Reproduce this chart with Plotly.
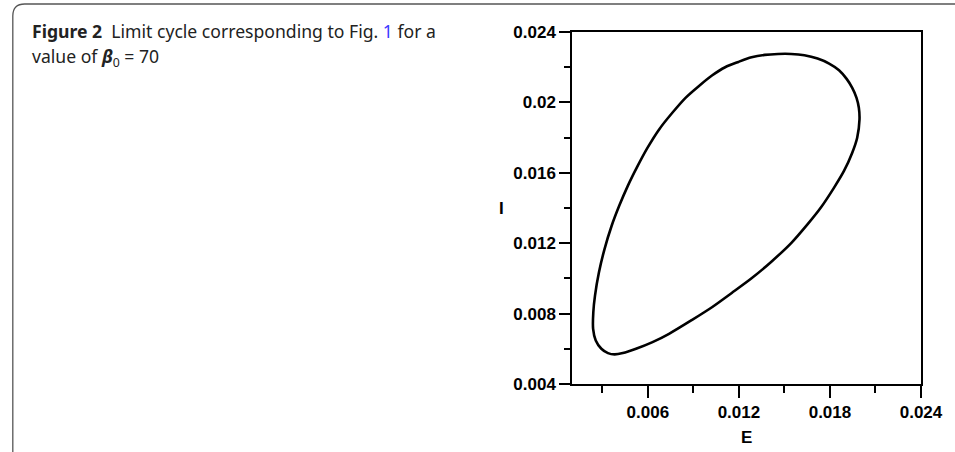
import plotly.graph_objects as go

# Limit cycle points (E, I)
E_vals = [0.019947, 0.019904, 0.019751, 0.019469, 0.019099, 0.018598, 0.017946, 0.017184,
          0.016314, 0.015444, 0.014574, 0.013703, 0.012833, 0.011963, 0.011093, 0.010223,
          0.009352, 0.008482, 0.007612, 0.006742, 0.005980, 0.005328, 0.004678, 0.004111,
          0.003614, 0.003143, 0.002777, 0.002516, 0.002405, 0.002391, 0.002565, 0.002935,
          0.003370, 0.003805, 0.004349, 0.005219, 0.006307, 0.007395, 0.008917, 0.010223,
          0.011528, 0.012833, 0.014139, 0.015444, 0.016532, 0.017402, 0.018272, 0.018925,
          0.019469, 0.019795, 0.019947]
I_vals = [0.019033, 0.019694, 0.020261, 0.020827, 0.021337, 0.021828, 0.022206, 0.022489,
          0.022678, 0.022754, 0.022754, 0.022700, 0.022560, 0.022300, 0.021998, 0.021526,
          0.020922, 0.020261, 0.019411, 0.018466, 0.017428, 0.016389, 0.015256, 0.014123,
          0.012989, 0.011667, 0.010345, 0.009023, 0.008079, 0.007135, 0.006474, 0.006002,
          0.005756, 0.005681, 0.005756, 0.006002, 0.006379, 0.006852, 0.007645, 0.008362,
          0.009174, 0.010005, 0.010950, 0.012007, 0.013084, 0.014028, 0.015161, 0.016106,
          0.017144, 0.017994, 0.019033]

x_tick_vals = [0.006, 0.012, 0.018, 0.024]
x_tick_text = ["0.006", "0.012", "0.018", "0.024"]
y_tick_vals = [0.004, 0.008, 0.012, 0.016, 0.020, 0.024]
y_tick_text = ["0.004", "0.008", "0.012", "0.016", "0.02", "0.024"]

W, H = 955, 452
L, R, T, B = 572, 31, 32, 68
PW, PH = W - L - R, H - T - B

def px(x):
    return (x - L) / PW

def py(y):
    return (H - B - y) / PH

fig = go.Figure()
fig.add_trace(go.Scatter(x=E_vals, y=I_vals, mode="lines",
                         line=dict(color="black", width=2.6, shape="spline", smoothing=0.8),
                         hoverinfo="skip", showlegend=False))

tickfont = dict(family="Liberation Sans, Arial, sans-serif", size=17, color="black", weight="bold")

fig.update_layout(
    width=W, height=H,
    margin=dict(l=L, r=R, t=T, b=B),
    paper_bgcolor="white", plot_bgcolor="white",
    xaxis=dict(range=[0.001, 0.024], tickvals=x_tick_vals, ticktext=x_tick_text,
               ticks="outside", ticklen=12, tickwidth=1.5, tickcolor="black",
               showline=True, linecolor="black", linewidth=1.5, mirror=True,
               showgrid=False, zeroline=False, tickfont=tickfont,
               minor=dict(dtick=0.003, tick0=0, ticks="outside", ticklen=7,
                          tickwidth=1.5, tickcolor="black", showgrid=False)),
    yaxis=dict(range=[0.004, 0.024], tickvals=y_tick_vals, ticktext=y_tick_text,
               ticks="outside", ticklen=11, tickwidth=1.5, tickcolor="black",
               showline=True, linecolor="black", linewidth=1.5, mirror=True,
               showgrid=False, zeroline=False, tickfont=tickfont,
               minor=dict(dtick=0.002, tick0=0, ticks="outside", ticklen=6,
                          tickwidth=1.5, tickcolor="black", showgrid=False)),
)

# Axis titles
fig.add_annotation(x=px(501), y=py(208), xref="paper", yref="paper", text="I",
                   showarrow=False, font=tickfont, xanchor="center", yanchor="middle")
fig.add_annotation(x=px(748), y=py(437), xref="paper", yref="paper", text="E",
                   showarrow=False, font=tickfont, xanchor="center", yanchor="middle")

# Caption
capfont = dict(family="Noto Sans, Open Sans, sans-serif", size=17.6, color="#222")
fig.add_annotation(x=px(25), y=py(31), xref="paper", yref="paper",
                   text="<b>Figure 2</b>  Limit cycle corresponding to Fig. <span style='color:#3b3bff'>1</span> for a",
                   showarrow=False, font=capfont, xanchor="left", yanchor="middle", align="left")
fig.add_annotation(x=px(25), y=py(57), xref="paper", yref="paper",
                   text="value of <b><i>β</i></b><sub>0</sub> = 70",
                   showarrow=False, font=capfont, xanchor="left", yanchor="middle", align="left")

# Rounded border
path = (f"M {px(8)},{py(460)} L {px(8)},{py(16)} Q {px(8)},{py(4)} {px(20)},{py(4)} "
        f"L {px(960)},{py(4)}")
fig.add_shape(type="path", path=path, xref="paper", yref="paper",
              line=dict(color="#555", width=1.3))

fig.write_html("out.html", config={"displayModeBar": False},
               post_script="document.body.style.margin='0';document.body.style.overflow='hidden';")
